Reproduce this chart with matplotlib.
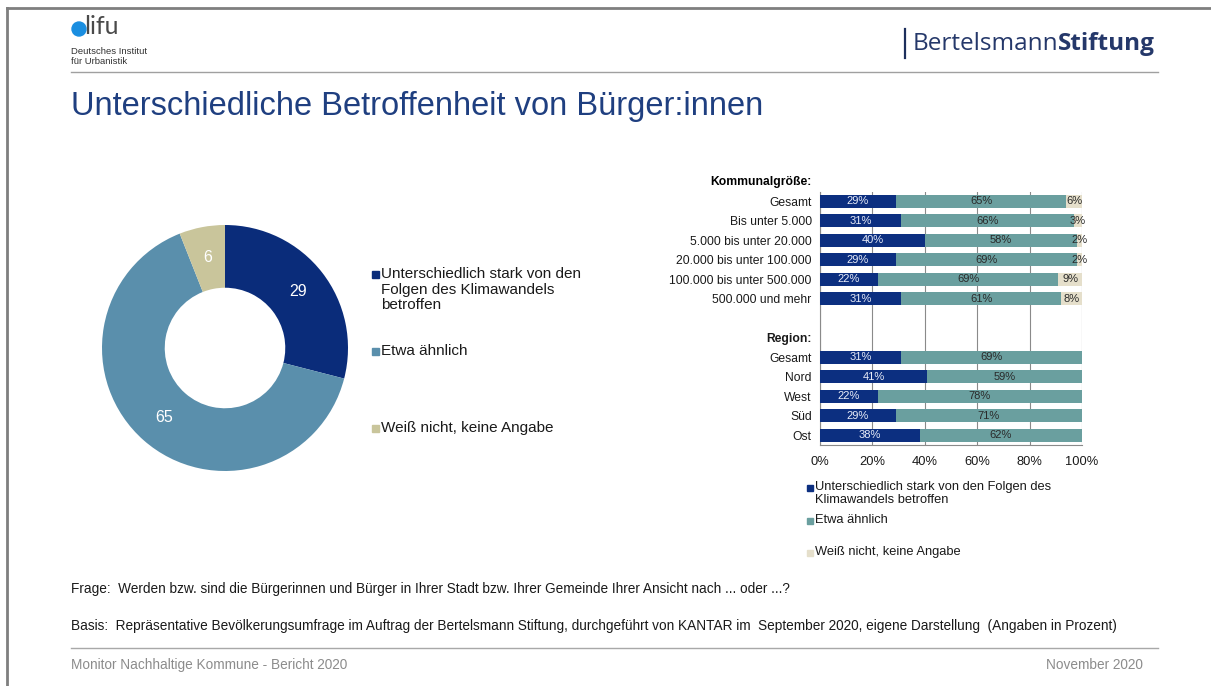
import matplotlib
matplotlib.use("Agg")
import matplotlib.pyplot as plt
from matplotlib.patches import Rectangle, Ellipse
from matplotlib.lines import Line2D

plt.rcParams['font.family'] = ['Liberation Sans', 'DejaVu Sans']

W, H = 1211, 686

# donut data
donut_labels = ["Unterschiedlich stark von den\nFolgen des Klimawandels\nbetroffen",
                "Etwa ähnlich", "Weiß nicht, keine Angabe"]
donut_values = [29, 65, 6]
donut_colors = ["#0a2c7a", "#5a8fac", "#c9c59b"]

# bar data
kommunal_cats = ["Gesamt", "Bis unter 5.000", "5.000 bis unter 20.000",
                 "20.000 bis unter 100.000", "100.000 bis unter 500.000", "500.000 und mehr"]
kommunal_betroffen = [29, 31, 40, 29, 22, 31]
kommunal_aehnlich = [65, 66, 58, 69, 69, 61]
kommunal_weiss = [6, 3, 2, 2, 9, 8]

region_cats = ["Gesamt", "Nord", "West", "Süd", "Ost"]
region_betroffen = [31, 41, 22, 29, 38]
region_aehnlich = [69, 59, 78, 71, 62]
region_weiss = [0, 0, 0, 0, 0]

bar_legend = ["Unterschiedlich stark von den Folgen des\nKlimawandels betroffen",
              "Etwa ähnlich", "Weiß nicht, keine Angabe"]
bar_colors = ["#0c2f80", "#6a9f9f", "#e5dfcb"]
label_colors = ["#e8ecf8", "#2a2a2a", "#2a2a2a"]

xticks = [0, 20, 40, 60, 80, 100]


def box(x0, y0, w, h):
    return [x0 / W, 1 - (y0 + h) / H, w / W, h / H]


def ftext(x, y, s, **kw):
    return fig.text(x / W, 1 - y / H, s, **kw)


fig = plt.figure(figsize=(W / 100, H / 100), dpi=100)

# frame and header
fig.add_artist(Line2D([7 / W, 1], [1 - 8 / H, 1 - 8 / H], color="#7f7f7f", lw=2))
fig.add_artist(Line2D([7 / W, 7 / W], [0, 1 - 8 / H], color="#7f7f7f", lw=2))
fig.add_artist(Line2D([71 / W, 1158 / W], [1 - 72 / H, 1 - 72 / H], color="#a0a0a0", lw=1))
fig.add_artist(Line2D([71 / W, 1158 / W], [1 - 648 / H, 1 - 648 / H], color="#a8a8a8", lw=1))

# difu logo
fig.add_artist(Ellipse((79 / W, 1 - 29 / H), 14 / W, 14 / H, transform=fig.transFigure,
                       color="#1a8ee0", zorder=5))
ftext(84, 27, "lifu", fontsize=18, color="#4a4a4a", va="center", ha="left",
      family=["Lato", "DejaVu Sans"])
ftext(71, 52, "Deutsches Institut", fontsize=6.8, color="#333333", va="center")
ftext(71, 62, "für Urbanistik", fontsize=6.8, color="#333333", va="center")

# Bertelsmann
fig.add_artist(Line2D([905 / W, 905 / W], [1 - 29 / H, 1 - 58 / H], color="#1d2f5c", lw=1.6))
t = ftext(913, 44, "Bertelsmann", fontsize=17.5, color="#25386a", va="center",
          family=["Open Sans", "DejaVu Sans"])
fig.canvas.draw()
bb = t.get_window_extent()
fig.text((bb.x1 - 1) / W, 1 - 44 / H, "Stiftung", fontsize=17.5, color="#25386a",
         va="center", fontweight="bold", family=["Open Sans", "DejaVu Sans"])

# title
ftext(71, 107, "Unterschiedliche Betroffenheit von Bürger:innen", fontsize=23.5,
      color="#1f3f80", va="center")

# donut
ax1 = fig.add_axes(box(102, 225, 246, 246))
ax1.pie(donut_values, colors=donut_colors, startangle=90, counterclock=False,
        radius=1, wedgeprops=dict(width=0.51, linewidth=0),
        autopct="%.0f", pctdistance=0.75,
        textprops=dict(color="white", fontsize=11.5))
ax1.set_xlim(-1, 1)
ax1.set_ylim(-1, 1)
ax1.set_aspect("equal")
ax1.axis("off")

legend_y = [274, 351, 428]
for lab, col, y in zip(donut_labels, donut_colors, legend_y):
    fig.add_artist(Rectangle((372 / W, 1 - (y + 4) / H), 7 / W, 7 / H,
                             transform=fig.transFigure, color=col))
    ftext(381, y - 7, lab, fontsize=11, color="#1a1a1a", va="top", linespacing=1.15)

# stacked bars
ax2 = fig.add_axes(box(820, 192, 262, 253))
k_pos = list(range(len(kommunal_cats)))
r_pos = [8 + i for i in range(len(region_cats))]
pos = k_pos + r_pos
series = [kommunal_betroffen + region_betroffen,
          kommunal_aehnlich + region_aehnlich,
          kommunal_weiss + region_weiss]
left = [0] * len(pos)
for vals, col, lcol in zip(series, bar_colors, label_colors):
    ax2.barh(pos, vals, left=left, height=0.68, color=col, zorder=3)
    for p, v, l in zip(pos, vals, left):
        if v > 0:
            ax2.text(l + v / 2, p, f"{v}%", ha="center", va="center",
                     fontsize=8, color=lcol, zorder=4)
    left = [a + b for a, b in zip(left, vals)]

ax2.set_xlim(0, 100)
ax2.set_ylim(12.5, -0.47)
ax2.set_yticks(pos + [7])
ax2.set_yticklabels(kommunal_cats + region_cats + ["Region:"], fontsize=8.7, color="#1a1a1a")
ax2.get_yticklabels()[-1].set_fontweight("bold")
ax2.annotate("Kommunalgröße:", xy=(0, -1), xycoords=("axes fraction", "data"),
             xytext=(-6, 0), textcoords="offset points", ha="right", va="center",
             fontsize=8.7, fontweight="bold", annotation_clip=False)
ax2.set_xticks(xticks)
ax2.set_xticklabels([f"{x}%" for x in xticks], fontsize=9.3, color="#1a1a1a")
ax2.tick_params(length=0)
ax2.tick_params(axis="x", pad=8)
ax2.tick_params(axis="y", pad=6)
ax2.grid(axis="x", color="#8a8a8a", lw=0.8, zorder=0)
for s in ["top", "right"]:
    ax2.spines[s].set_visible(False)
ax2.spines["left"].set_color("#8a8a8a")
ax2.spines["bottom"].set_color("#8a8a8a")

bl_y = [488, 521, 553]
for lab, col, y in zip(bar_legend, bar_colors, bl_y):
    fig.add_artist(Rectangle((807 / W, 1 - (y + 3) / H), 6 / W, 6 / H,
                             transform=fig.transFigure, color=col))
    ftext(815, y - 7, lab, fontsize=9.3, color="#1a1a1a", va="top", linespacing=1.1)

# footer
ftext(71, 589, "Frage:  Werden bzw. sind die Bürgerinnen und Bürger in Ihrer Stadt bzw. Ihrer Gemeinde Ihrer Ansicht nach ... oder ...?",
      fontsize=9.8, va="center", color="#1a1a1a")
ftext(71, 626, "Basis:  Repräsentative Bevölkerungsumfrage im Auftrag der Bertelsmann Stiftung, durchgeführt von KANTAR im  September 2020, eigene Darstellung  (Angaben in Prozent)",
      fontsize=9.8, va="center", color="#1a1a1a")
ftext(71, 665, "Monitor Nachhaltige Kommune - Bericht 2020", fontsize=9.8, va="center",
      color="#8c8c8c")
ftext(1143, 665, "November 2020", fontsize=9.8, va="center", ha="right", color="#8c8c8c")

fig.savefig("out.png", dpi=100)
